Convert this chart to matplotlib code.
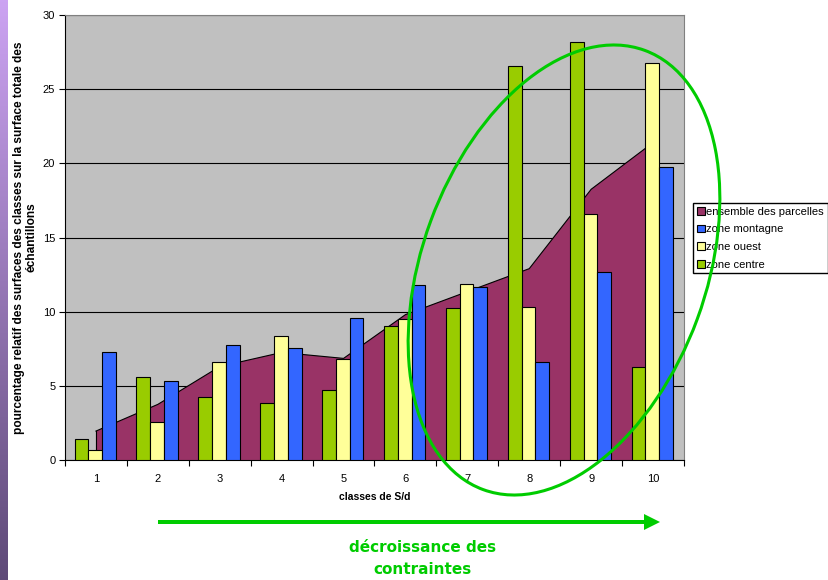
import numpy as np
import matplotlib
matplotlib.use('Agg')
from matplotlib import pyplot as plt
from matplotlib.patches import Patch, Ellipse, FancyArrow

plt.rcParams['font.family'] = ['Liberation Sans', 'DejaVu Sans']

classes = [1, 2, 3, 4, 5, 6, 7, 8, 9, 10]
ensemble = [1.95, 3.75, 6.3, 7.25, 6.85, 9.8, 11.35, 12.9, 18.25, 21.4]
montagne = [7.3, 5.3, 7.78, 7.57, 9.55, 11.82, 11.65, 6.61, 12.7, 19.78]
ouest = [0.65, 2.54, 6.6, 8.36, 6.79, 9.49, 11.89, 10.32, 16.57, 26.77]
centre = [1.4, 5.57, 4.23, 3.82, 4.7, 9.04, 10.23, 26.57, 28.17, 6.27]
labels = ['ensemble des parcelles', 'zone montagne', 'zone ouest', 'zone centre']

c_ens = '#993366'
c_mont = '#3366FF'
c_ouest = '#FFFF99'
c_centre = '#99CC00'

W, H = 829, 580
fig = plt.figure(figsize=(W / 100, H / 100), dpi=100)
ax = fig.add_axes([65 / W, 1 - 460 / H, (684 - 65) / W, (460 - 15) / H])
ax.set_facecolor('#C0C0C0')

x = np.array(classes)
ax.fill_between(x, ensemble, 0, facecolor=c_ens, edgecolor='none', zorder=2)
ax.plot(x, ensemble, color='black', lw=0.8, zorder=2)
ax.plot([x[0], x[0]], [0, ensemble[0]], color='black', lw=0.8, zorder=2)

bw = 0.222
off = -0.012
ax.bar(x - bw + off, centre, bw, color=c_centre, edgecolor='black', lw=0.8, zorder=3)
ax.bar(x + off, ouest, bw, color=c_ouest, edgecolor='black', lw=0.8, zorder=3)
ax.bar(x + bw + off, montagne, bw, color=c_mont, edgecolor='black', lw=0.8, zorder=3)

ax.set_xlim(0.5, 10.5)
ax.set_ylim(0, 30)
ax.set_yticks(range(0, 31, 5))
ax.yaxis.grid(True, color='black', lw=0.8, zorder=1)
ax.set_axisbelow(True)
ax.tick_params(axis='y', labelsize=8, length=4, width=0.8, pad=3)
ax.set_xticks(np.arange(0.5, 11, 1))
ax.set_xticklabels([])
ax.set_xticks(x, minor=True)
ax.set_xticklabels([str(c) for c in classes], minor=True)
ax.tick_params(axis='x', which='major', length=4, width=0.8)
ax.tick_params(axis='x', which='minor', length=0, labelsize=8, pad=10)
for s in ['top', 'right']:
    ax.spines[s].set_color('#808080')
for s in ['left', 'bottom']:
    ax.spines[s].set_color('black')
    ax.spines[s].set_linewidth(0.8)

ax.set_xlabel('classes de S/d', fontsize=7.5, fontweight='bold', labelpad=5.5)
ax.set_ylabel('pourcentage relatif des surfaces des classes sur la surface totale des\néchantillons',
              fontsize=8.6, fontweight='bold', labelpad=4, linespacing=1.05)

handles = [Patch(facecolor=c, edgecolor='black', lw=0.8) for c in [c_ens, c_mont, c_ouest, c_centre]]
fig.legend(handles, labels, loc='upper left', bbox_to_anchor=(693 / W, 1 - 203 / H),
           fontsize=8, frameon=True, fancybox=False, edgecolor='black', framealpha=1,
           borderpad=0.35, borderaxespad=0, handlelength=0.7, handleheight=0.7,
           handletextpad=0.15, labelspacing=0.68)

# overlay in pixel coordinates for the annotations
ov = fig.add_axes([0, 0, 1, 1], facecolor='none')
ov.set_zorder(10)
ov.set_xlim(0, W)
ov.set_ylim(H, 0)
ov.axis('off')

grad = np.linspace(0, 1, 256).reshape(-1, 1)
top = np.array([0.80, 0.64, 0.95])
bot = np.array([0.37, 0.29, 0.47])
strip = top + (bot - top) * grad[:, :, None]
ov.imshow(strip, extent=[0, 8, H, 0], aspect='auto', zorder=0)
ov.set_xlim(0, W)
ov.set_ylim(H, 0)

ov.add_patch(Ellipse((564, 270), 284, 468, angle=20.2, fill=False, edgecolor='#00CC00', lw=2.2))
ov.add_patch(FancyArrow(158, 522, 486, 0, width=4, head_width=16, head_length=16,
                        length_includes_head=False, color='#00CC00', lw=0))
ov.text(423, 547, 'décroissance des', ha='center', va='center', fontsize=11,
        fontweight='bold', color='#00CC00', family=['DejaVu Sans'])
ov.text(423, 570, 'contraintes', ha='center', va='center', fontsize=11,
        fontweight='bold', color='#00CC00', family=['DejaVu Sans'])

fig.savefig('out.png', dpi=100)
